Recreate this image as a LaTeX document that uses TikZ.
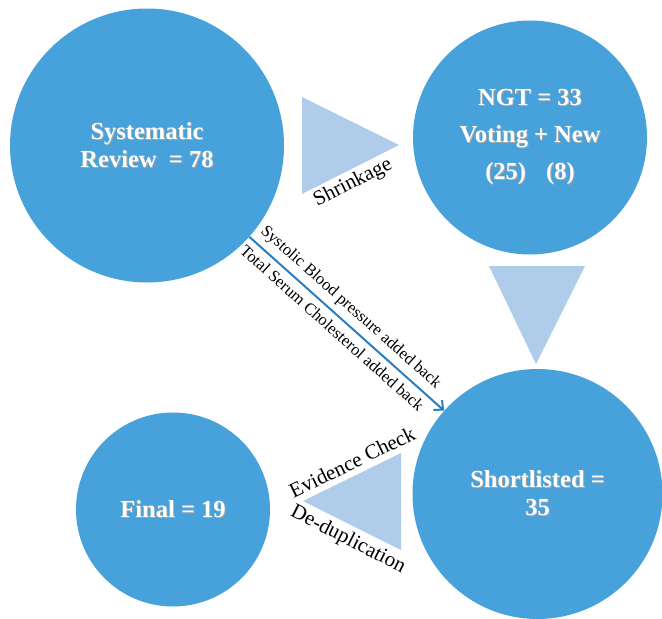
\documentclass[tikz,border=0pt]{standalone}
\usepackage{fontspec}
\setmainfont{Liberation Serif}
\usepackage{tikz}
\usetikzlibrary{arrows.meta}
\definecolor{circblue}{HTML}{47A2DC}
\definecolor{tripale}{HTML}{AFCCEA}
\definecolor{arrblue}{HTML}{2B7DC1}
\newcommand{\txtshadow}[1]{\leavevmode\rlap{\hspace{1pt}\raisebox{-1pt}{\textcolor{black!35}{#1}}}#1}

\begin{document}
\begin{tikzpicture}[
    x=1pt, y=-1pt,
    stage/.style={circle, fill=circblue, inner sep=0pt, align=center, text=white, font=\fontsize{24.5}{28}\selectfont\bfseries},
    wedge/.style={fill=tripale},
    flow/.style={-{Straight Barb[length=7pt,width=13pt]}, line width=2pt, color=arrblue},
    flab/.style={font=\fontsize{16.5}{18}\selectfont, sloped, inner sep=1pt, text=black},
    wlab/.style={font=\fontsize{21}{24}\selectfont, inner sep=0pt}
]
\useasboundingbox (0,0) rectangle (662,619);

% Stages
\node[stage, minimum size=274pt] (sys) at (147,145.5) {\txtshadow{Systematic}\\\txtshadow{Review\ \ = 78}};
\node[stage, minimum size=234pt, font=\fontsize{24.5}{37}\selectfont\bfseries] (ngt) at (530,137.5) {\txtshadow{NGT = 33}\\\txtshadow{Voting + New}\\\txtshadow{(25)\hspace{20pt}(8)}};
\node[stage, minimum size=250pt] (short) at (537.5,494) {\txtshadow{Shortlisted =}\\\txtshadow{35}};
\node[stage, minimum size=194pt] (fin) at (173,509.5) {\txtshadow{Final = 19}};

% Step wedges
\fill[wedge] (302,97) -- (302,194) -- (399,145) -- cycle;
\fill[wedge] (489,266) -- (585,266) -- (536,364) -- cycle;
\fill[wedge] (401,453) -- (401,550) -- (303,501) -- cycle;

% Wedge labels
\node[wlab, rotate=27] (shr) at (353,183) {Shrinkage};
\node[wlab, rotate=26] (evc) at (352,462) {Evidence Check};
\node[wlab, rotate=-27] (ded) at (348,540) {De-duplication};

% Added back
\draw[flow] (sys) -- (short)
    node[flab, pos=0.47, above=5pt] (sbp) {Systolic Blood pressure added back}
    node[flab, pos=0.47, below=5pt] (tsc) {Total Serum Cholesterol added back};
\end{tikzpicture}
\end{document}
